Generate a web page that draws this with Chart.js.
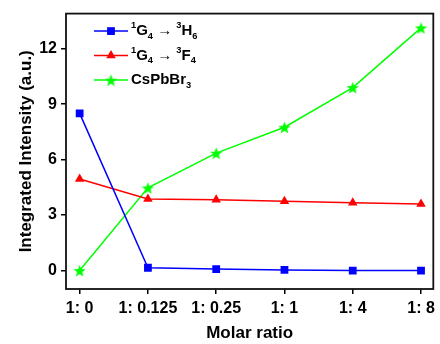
<!DOCTYPE html>
<html>
<head>
<meta charset="utf-8">
<script src="https://cdn.jsdelivr.net/npm/chart.js@4"></script>
<style>
html, body { margin: 0; padding: 0; background: #fff; }
#wrap { width: 440px; height: 344px; }
</style>
</head>
<body>
<div id="wrap"><canvas id="chart"></canvas></div>
<script>
var ratios = ['1: 0', '1: 0.125', '1: 0.25', '1: 1', '1: 4', '1: 8'];
var h6Values = [8.5, 0.15, 0.08, 0.03, 0.0, 0.0];
var f4Values = [4.95, 3.87, 3.83, 3.75, 3.67, 3.6];
var cspbbr3Values = [0.0, 4.47, 6.35, 7.75, 9.9, 13.13];
var yTicks = [0, 3, 6, 9, 12];
// ^x = superscript, _x = subscript
var seriesLabels = ['^1G_4 \u2192 ^3H_6', '^1G_4 \u2192 ^3F_4', 'CsPbBr_3'];

var FONT = '"Liberation Sans", Arial, sans-serif';

function toPoints(values) {
    return values.map(function (v, i) { return { x: i, y: v }; });
}

function makeStar(color, size) {
    var c = document.createElement('canvas');
    c.width = size;
    c.height = size;
    var g = c.getContext('2d');
    var cx = size / 2, cy = size / 2 + size * 0.06, R = size / 2, r = R * 0.42;
    g.beginPath();
    for (var i = 0; i < 10; i++) {
        var a = -Math.PI / 2 + i * Math.PI / 5;
        var rad = i % 2 ? r : R;
        g.lineTo(cx + rad * Math.cos(a), cy + rad * Math.sin(a));
    }
    g.closePath();
    g.fillStyle = color;
    g.fill();
    return c;
}

var starImg = makeStar('#00ff00', 13);

function drawRich(ctx, text, x, y, size) {
    var i = 0;
    while (i < text.length) {
        var ch = text[i], mode = '';
        if ((ch === '^' || ch === '_') && i + 1 < text.length) {
            mode = ch;
            ch = text[i + 1];
            i += 2;
        } else {
            i += 1;
        }
        var fs = mode ? size * 0.62 : size;
        var dy = mode === '^' ? -size * 0.36 : (mode === '_' ? size * 0.34 : 0);
        ctx.font = 'bold ' + fs + 'px ' + FONT;
        ctx.fillText(ch, x, y + dy);
        x += ctx.measureText(ch).width;
    }
}

function drawMarker(ctx, ds, x, y) {
    ctx.fillStyle = ds.pointBackgroundColor;
    var r = ds.pointRadius;
    if (ds.pointStyle === 'rect') {
        var s = Math.SQRT1_2 * r;
        ctx.fillRect(x - s, y - s, 2 * s, 2 * s);
    } else if (ds.pointStyle === 'triangle') {
        ctx.beginPath();
        ctx.moveTo(x, y - r);
        ctx.lineTo(x + r * Math.cos(Math.PI / 6), y + r * 0.5);
        ctx.lineTo(x - r * Math.cos(Math.PI / 6), y + r * 0.5);
        ctx.closePath();
        ctx.fill();
    } else {
        var img = ds.pointStyle;
        ctx.drawImage(img, x - img.width / 2, y - img.height / 2);
    }
}

var insideLegend = {
    id: 'insideLegend',
    afterDatasetsDraw: function (chart) {
        var ctx = chart.ctx, area = chart.chartArea;
        ctx.save();
        chart.data.datasets.forEach(function (ds, i) {
            var y = area.top + 17.5 + i * 24.5;
            var x0 = area.left + 28;
            ctx.strokeStyle = ds.borderColor;
            ctx.lineWidth = 1.5;
            ctx.beginPath();
            ctx.moveTo(x0, y);
            ctx.lineTo(x0 + 34, y);
            ctx.stroke();
            drawMarker(ctx, ds, x0 + 17, y);
            ctx.fillStyle = '#000';
            ctx.textBaseline = 'middle';
            drawRich(ctx, ds.label, x0 + 37, y, 15);
        });
        ctx.restore();
    }
};

var frame = {
    id: 'frame',
    afterDraw: function (chart) {
        var ctx = chart.ctx, a = chart.chartArea;
        ctx.save();
        ctx.strokeStyle = '#111';
        ctx.lineWidth = 1.8;
        ctx.strokeRect(a.left, a.top, a.right - a.left, a.bottom - a.top);
        ctx.restore();
    }
};

var ctx = document.getElementById('chart').getContext('2d');
var chart = new Chart(ctx, {
    type: 'line',
    data: {
        datasets: [{
            label: seriesLabels[0],
            data: toPoints(h6Values),
            borderColor: '#0000ff',
            pointBackgroundColor: '#0000ff',
            pointBorderWidth: 0,
            pointStyle: 'rect',
            pointRadius: 5.5,
            borderWidth: 1.5
        },
        {
            label: seriesLabels[1],
            data: toPoints(f4Values),
            borderColor: '#ff0000',
            pointBackgroundColor: '#ff0000',
            pointBorderWidth: 0,
            pointStyle: 'triangle',
            pointRadius: 5.5,
            borderWidth: 1.5
        },
        {
            label: seriesLabels[2],
            data: toPoints(cspbbr3Values),
            borderColor: '#00ff00',
            pointBackgroundColor: '#00ff00',
            pointBorderWidth: 0,
            pointStyle: starImg,
            pointRadius: 6,
            borderWidth: 1.5
        }]
    },
    options: {
        responsive: true,
        maintainAspectRatio: false,
        animation: false,
        layout: { padding: { top: 12, right: 3, left: 0, bottom: 0 } },
        plugins: {
            legend: { display: false },
            tooltip: { enabled: false }
        },
        scales: {
            x: {
                type: 'linear',
                min: -0.2,
                max: 5.18,
                afterBuildTicks: function (axis) {
                    axis.ticks = ratios.map(function (r, i) { return { value: i }; });
                },
                afterFit: function (axis) { axis.height = 55; },
                grid: { drawOnChartArea: false, drawTicks: true, tickLength: 5, color: '#000', lineWidth: 1.5 },
                border: { display: false },
                ticks: {
                    color: '#000',
                    padding: 5,
                    maxRotation: 0,
                    autoSkip: false,
                    font: { family: FONT, size: 16, weight: 'bold' },
                    callback: function (v) { return ratios[v]; }
                },
                title: {
                    display: true,
                    text: 'Molar ratio',
                    color: '#000',
                    padding: { top: 0, bottom: 0 },
                    font: { family: FONT, size: 17, weight: 'bold' }
                }
            },
            y: {
                min: -1,
                max: 13.9,
                afterBuildTicks: function (axis) {
                    axis.ticks = yTicks.map(function (v) { return { value: v }; });
                },
                afterFit: function (axis) { axis.width = 66; },
                grid: { drawOnChartArea: false, drawTicks: true, tickLength: 5, color: '#000', lineWidth: 1.5 },
                border: { display: false },
                ticks: {
                    color: '#000',
                    padding: 4,
                    font: { family: FONT, size: 16, weight: 'bold' }
                },
                title: {
                    display: true,
                    text: 'Integrated Intensity (a.u.)',
                    color: '#000',
                    padding: { top: 16, bottom: 0 },
                    font: { family: FONT, size: 17, weight: 'bold' }
                }
            }
        }
    },
    plugins: [insideLegend, frame]
});
</script>
</body>
</html>
